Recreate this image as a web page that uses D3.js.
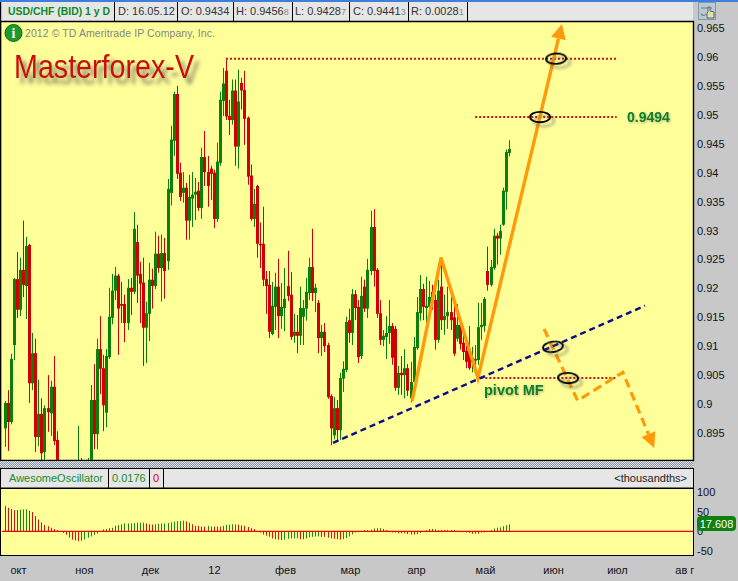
<!DOCTYPE html>
<html><head><meta charset="utf-8">
<script src="https://cdn.jsdelivr.net/npm/d3@7"></script>
<style>
html,body{margin:0;padding:0;background:#c8c8c8;overflow:hidden}
text{font-family:"Liberation Sans",Arial,sans-serif}
</style></head><body>
<svg id="c" width="738" height="581"></svg>
<script>
// daily candles, in price
const opens=[.8958,.9002,.8969,.9102,.9216,.9163,.9232,.9204,.9275,.9036,.9088,.8943,.8983,.8917,.8993,.8984,.9030,.8938,.8886,.8820,.8790,.8840,.8800,.8850,.8810,.8860,.8820,.8850,.8880,.9007,.8948,.9095,.9062,.8985,.9081,.9149,.9196,.9222,.9173,.9173,.9140,.9201,.9194,.9280,.9225,.9210,.9132,.9156,.9215,.9204,.9260,.9235,.9261,.9247,.9365,.9455,.9536,.9400,.9365,.9374,.9317,.9355,.9362,.9369,.9339,.9427,.9401,.9407,.9400,.9320,.9417,.9524,.9576,.9498,.9491,.9542,.9445,.9555,.9543,.9495,.9395,.9320,.9377,.9277,.9277,.9216,.9206,.9121,.9168,.9203,.9152,.9166,.9204,.9189,.9118,.9125,.9118,.9151,.9165,.9192,.9237,.9192,.9175,.9114,.9125,.9102,.9014,.8946,.8993,.8955,.9044,.9059,.9145,.9123,.9190,.9168,.9083,.9203,.9165,.9230,.9306,.9232,.9157,.9111,.9116,.9123,.9135,.9130,.9028,.9054,.9050,.9062,.9010,.9038,.9097,.9157,.9199,.9166,.9168,.9194,.9180,.9111,.9203,.9145,.9152,.9159,.9150,.9113,.9137,.9106,.9092,.9092,.9073,.9075,.9076,.9133,.9135,.9230,.9206,.9235,.9291,.9286,.9310,.9367,.9434];
const highs=[.9005,.9024,.9087,.9218,.9263,.9253,.9317,.9289,.9277,.9123,.9113,.9042,.9010,.8998,.9050,.9040,.9083,.8953,.8895,.8850,.8860,.8880,.8870,.8890,.8962,.8907,.8880,.8907,.9033,.9069,.9113,.9152,.9085,.9095,.9201,.9225,.9237,.9225,.9211,.9189,.9216,.9218,.9332,.9310,.9246,.9253,.9177,.9244,.9234,.9298,.9291,.9293,.9287,.9389,.9481,.9540,.9550,.9417,.9401,.9382,.9396,.9401,.9391,.9384,.9443,.9472,.9429,.9412,.9405,.9452,.9540,.9581,.9595,.9526,.9561,.9561,.9578,.9564,.9576,.9497,.9414,.9372,.9379,.9314,.9341,.9230,.9230,.9211,.9227,.9251,.9209,.9235,.9265,.9228,.9156,.9154,.9203,.9180,.9218,.9253,.9303,.9208,.9180,.9137,.9140,.9106,.9017,.9012,.9007,.9054,.9074,.9151,.9165,.9199,.9197,.9180,.9220,.9215,.9251,.9334,.9337,.9235,.9180,.9128,.9152,.9180,.9140,.9135,.9066,.9083,.9095,.9069,.9073,.9116,.9185,.9223,.9208,.9220,.9213,.9206,.9189,.9215,.9254,.9189,.9203,.9185,.9180,.9173,.9145,.9135,.9111,.9135,.9099,.9102,.9175,.9175,.9185,.9272,.9249,.9303,.9296,.9310,.9374,.9440,.9456];
const lows=[.8926,.8919,.8965,.9076,.9149,.9152,.9185,.9147,.9002,.9024,.8917,.8927,.8903,.8903,.8952,.8945,.8929,.8869,.8800,.8770,.8760,.8780,.8780,.8790,.8800,.8790,.8790,.8800,.8860,.8922,.8922,.9017,.8953,.8960,.9078,.9138,.9180,.9085,.9140,.9107,.9128,.9154,.9190,.9175,.9140,.9066,.9071,.9109,.9165,.9199,.9227,.9177,.9182,.9232,.9343,.9429,.9389,.9351,.9348,.9284,.9284,.9306,.9318,.9334,.9320,.9377,.9341,.9353,.9304,.9315,.9412,.9498,.9491,.9465,.9483,.9412,.9407,.9509,.9448,.9379,.9317,.9306,.9253,.9235,.9204,.9156,.9114,.9119,.9128,.9114,.9130,.9126,.9178,.9111,.9106,.9088,.9102,.9102,.9144,.9180,.9178,.9159,.9088,.9083,.9090,.9009,.8929,.8939,.8938,.8938,.9021,.9055,.9106,.9102,.9145,.9071,.9078,.9159,.9149,.9223,.9203,.9149,.9102,.9100,.9078,.9104,.9068,.9023,.9016,.9016,.9010,.9014,.9003,.9032,.9094,.9144,.9145,.9137,.9145,.9163,.9094,.9106,.9128,.9120,.9130,.9128,.9083,.9108,.9094,.9076,.9062,.9059,.9055,.9059,.9068,.9111,.9125,.9196,.9203,.9232,.9241,.9258,.9308,.9336,.9428];
const closes=[.9002,.8969,.9078,.9216,.9163,.9232,.9206,.9273,.9036,.9088,.8943,.8983,.8915,.8993,.8986,.9030,.8936,.8886,.8820,.8790,.8840,.8800,.8850,.8810,.8860,.8820,.8850,.8880,.9007,.8948,.9095,.9061,.8998,.9083,.9151,.9196,.9222,.9165,.9170,.9140,.9201,.9194,.9303,.9222,.9208,.9132,.9157,.9215,.9204,.9260,.9235,.9261,.9230,.9372,.9457,.9536,.9398,.9358,.9374,.9317,.9358,.9362,.9367,.9339,.9427,.9401,.9377,.9398,.9320,.9419,.9526,.9554,.9497,.9491,.9542,.9445,.9523,.9542,.9493,.9393,.9320,.9346,.9277,.9275,.9215,.9204,.9125,.9170,.9203,.9152,.9168,.9182,.9187,.9116,.9125,.9118,.9166,.9166,.9194,.9237,.9192,.9201,.9114,.9125,.9100,.9012,.8958,.8993,.8955,.9045,.9061,.9142,.9123,.9190,.9166,.9081,.9187,.9165,.9232,.9306,.9230,.9156,.9111,.9118,.9123,.9135,.9080,.9028,.9054,.9050,.9062,.9023,.9038,.9099,.9159,.9199,.9168,.9170,.9185,.9180,.9111,.9196,.9145,.9152,.9159,.9145,.9087,.9137,.9104,.9090,.9073,.9062,.9080,.9078,.9133,.9137,.9182,.9206,.9237,.9291,.9286,.9299,.9369,.9436,.9441];
// Awesome Oscillator, thousandths
const aoValues=[65,60,57,54,54,55,56,56,52,49,39,30,23,16,13,9,6,3,-1,-4,-9,-16,-21,-23,-25,-24,-21,-16,-13,-9,-6,0,5,6,8,9,14,16,18,20,20,20,21,22,22,22,20,18,17,18,19,20,20,21,23,25,26,26,27,25,22,18,14,14,12,12,14,12,12,12,12,14,16,17,18,18,17,15,14,11,8,6,0,-3,-8,-11,-14,-18,-20,-21,-22,-21,-19,-18,-18,-18,-20,-20,-18,-15,-14,-13,-13,-14,-14,-16,-18,-19,-20,-21,-20,-17,-13,-8,-3,-2,-1,3,3,4,7,8,8,6,3,0,-3,-3,-5,-5,-5,-7,-8,-8,-7,-4,0,3,6,6,5,3,3,3,3,3,3,1,-2,-2,-3,-4,-6,-6,-6,-3,-3,-1,3,7,9,10,13,15,17.608];
const priceTicks=[.965,.96,.955,.95,.945,.94,.935,.93,.925,.92,.915,.91,.905,.9,.895];
const aoTicks=[100,50,0,-50];
const monthLabels=["окт","ноя","дек","12","фев","мар","апр","май","июн","июл","ав г"];
const monthIndex=[4.4,25.8,47.3,68.1,91.2,112.3,133.8,156.2,178.3,199.1,221];
// analyst's drawings: [bar index, price]
const resistance=[[72,.9597],[198.8,.9597]];
const target=[[153,.9496],[199,.9496]];
const pivot=[[155,.9045],[199,.9045]];
const trendLine=[[106.8,.8933],[208.2,.9170]];
const bullPath=[[132.5,.9005],[141.9,.9253],[153.9,.9045],[181.2,.9657]];
const bearPath=[[175.4,.9130],[186.3,.9006],[201,.9055],[211.2,.8924]];
const rings=[[179.3,.9597,-3],[174.1,.9496,0],[178.3,.9099,-8],[183.2,.9045,3]];

const svg=d3.select("#c");
const L=2,R=693,T=22,B=460,AT=488,AB=555;
const x=d3.scaleLinear().domain([0,164]).range([4.5,509]);
const y=d3.scaleLinear().domain([.965,.895]).range([28,433]);
const ay=d3.scaleLinear().domain([100,-50]).range([492,551]);
const GREEN="#0a800a",RED="#d00000",PALE="#ffff99",HDR="#e6e6e6";
const defs=svg.append("defs");
const pat=defs.append("pattern").attr("id","chk").attr("width",2).attr("height",2).attr("patternUnits","userSpaceOnUse");
pat.append("rect").attr("width",2).attr("height",2).attr("fill","#8f9aa6");
pat.append("rect").attr("width",1).attr("height",1).attr("fill","#d8dce0");
pat.append("rect").attr("x",1).attr("y",1).attr("width",1).attr("height",1).attr("fill","#d8dce0");
const blur=(id,s,dx,dy,op)=>{const f=defs.append("filter").attr("id",id).attr("x","-30%").attr("y","-60%").attr("width","170%").attr("height","240%");
 f.append("feDropShadow").attr("dx",dx).attr("dy",dy).attr("stdDeviation",s).attr("flood-color","#555").attr("flood-opacity",op);};
blur("sBig",2,5,6,.75);blur("sRing",1.6,4,4,.55);blur("sTxt",.8,1,1,.45);
defs.append("clipPath").attr("id","main").append("rect").attr("x",L).attr("y",T).attr("width",R-L).attr("height",B-T);
defs.append("clipPath").attr("id","ao").append("rect").attr("x",L).attr("y",AT).attr("width",R-L).attr("height",AB-AT);

svg.append("rect").attr("width",738).attr("height",581).attr("fill","#c8c8c8");
svg.append("rect").attr("width",738).attr("height",2).attr("fill","#3f7fd8");
// header bar
svg.append("rect").attr("x",0).attr("y",2).attr("width",693).attr("height",19).attr("fill",HDR);
svg.append("rect").attr("x",L).attr("y",T).attr("width",R-L).attr("height",B-T).attr("fill",PALE);
svg.append("path").attr("d",`M0.5 2V460.5H693.5V21.5H0`).attr("fill","none").attr("stroke","#000").attr("stroke-width",1.4);
[114,177,233,292,349,408,467].forEach(v=>svg.append("line").attr("x1",v+.5).attr("x2",v+.5).attr("y1",2).attr("y2",21).attr("stroke","#000"));
svg.append("text").attr("x",8).attr("y",15).attr("font-size",11).attr("font-weight","bold").attr("textLength",102).attr("lengthAdjust","spacingAndGlyphs").attr("fill","#0b8a2a").text("USD/CHF (BID) 1 y D");
const hdr=[["D: 16.05.12","",118],["O: 0.9434","",181],["H: 0.9456","8",236],["L: 0.9428","7",295],["C: 0.9441","3",353],["R: 0.0028","1",411]];
hdr.forEach(h=>{const t=svg.append("text").attr("x",h[2]).attr("y",15).attr("font-size",11).attr("fill","#333").text(h[0]);
 if(h[1])t.append("tspan").attr("font-size",9).attr("fill","#888").text(h[1]);});

// candles
const g=svg.append("g").attr("clip-path","url(#main)");
const bars=opens.map((o,i)=>({i,o,h:highs[i],l:lows[i],c:closes[i]}));
const col=d=>d.c>=d.o?GREEN:RED;
g.selectAll("line.w").data(bars).join("line").attr("class","w")
 .attr("x1",d=>Math.round(x(d.i))+.5).attr("x2",d=>Math.round(x(d.i))+.5)
 .attr("y1",d=>y(d.h)).attr("y2",d=>y(d.l)).attr("stroke",col).attr("stroke-width",1);
g.selectAll("rect.b").data(bars).join("rect").attr("class","b")
 .attr("x",d=>Math.round(x(d.i))-1).attr("width",3)
 .attr("y",d=>Math.min(y(d.o),y(d.c))).attr("height",d=>Math.max(1.5,Math.abs(y(d.o)-y(d.c)))).attr("fill",col);

// drawings
const ln=d3.line().x(d=>x(d[0])).y(d=>y(d[1]));
const dotted=s=>g.append("path").attr("d",ln(s)).attr("fill","none").attr("stroke","#cc1020").attr("stroke-width",2).attr("stroke-dasharray","2 2");
[resistance,target,pivot].forEach(dotted);
const arrowHead=(pts,len,hw)=>{const a=pts[pts.length-2],b=pts[pts.length-1];
 const ax=x(a[0]),ay_=y(a[1]),bx=x(b[0]),by=y(b[1]);const d=Math.hypot(bx-ax,by-ay_),ux=(bx-ax)/d,uy=(by-ay_)/d;
 const cx=bx-ux*len,cy=by-uy*len;
 return {tip:[bx,by],base:[cx,cy],poly:[[bx,by],[cx-uy*hw,cy+ux*hw],[cx+uy*hw,cy-ux*hw]].join(" ")};};
const ORANGE="#ff9a0a";
const upH=arrowHead(bullPath,15,7.5);
const lnPx=d3.line();
g.append("path").attr("d",lnPx([...bullPath.slice(0,-1).map(p=>[x(p[0]),y(p[1])]),upH.base])).attr("fill","none").attr("stroke",ORANGE).attr("stroke-width",3.4).attr("stroke-linejoin","miter");
g.append("polygon").attr("points",upH.poly).attr("fill",ORANGE);
const dnH=arrowHead(bearPath,15,7.5);
g.append("path").attr("d",lnPx([...bearPath.slice(0,-1).map(p=>[x(p[0]),y(p[1])]),dnH.base])).attr("fill","none").attr("stroke",ORANGE).attr("stroke-width",3.2).attr("stroke-dasharray","9 5");
g.append("polygon").attr("points",dnH.poly).attr("fill",ORANGE);
g.append("path").attr("d",ln(trendLine)).attr("fill","none").attr("stroke","#0a0a8c").attr("stroke-width",2.4).attr("stroke-dasharray","6 4");
g.selectAll("ellipse").data(rings).join("ellipse").attr("cx",d=>x(d[0])).attr("cy",d=>y(d[1])).attr("rx",10).attr("ry",5.2)
 .attr("transform",d=>`rotate(${d[2]} ${x(d[0])} ${y(d[1])})`).attr("fill","none").attr("stroke","#000").attr("stroke-width",1.9).attr("filter","url(#sRing)");

// labels in plot
svg.append("circle").attr("cx",13.5).attr("cy",33).attr("r",8.5).attr("fill","#1e9a2a").attr("stroke","#0c6a18");
svg.append("text").attr("x",13.5).attr("y",38).attr("text-anchor","middle").attr("font-size",14).attr("font-weight","bold").attr("fill","#fff").style("font-family","'Liberation Serif',serif").text("i");
svg.append("text").attr("x",25).attr("y",37).attr("font-size",10.5).attr("textLength",190).attr("lengthAdjust","spacing").attr("fill","#858585").text("2012 © TD Ameritrade IP Company, Inc.");
svg.append("text").attr("x",14).attr("y",78).attr("font-size",33).attr("textLength",180).attr("lengthAdjust","spacingAndGlyphs").attr("fill","#cc0a0a").attr("filter","url(#sBig)").text("Masterforex-V");
svg.append("text").attr("x",627).attr("y",122).attr("font-size",14).attr("font-weight","bold").attr("fill","#0b7f2a").attr("filter","url(#sTxt)").text("0.9494");
svg.append("text").attr("x",484).attr("y",395).attr("font-size",14.5).attr("font-weight","bold").attr("fill","#0b7f2a").attr("filter","url(#sTxt)").text("pivot MF");

// price axis
const axisTxt=sel=>{sel.select(".domain").remove();sel.selectAll(".tick line").remove();sel.selectAll("text").attr("font-size",11).attr("fill","#111").attr("x",3).style("font-family","'Liberation Sans',Arial,sans-serif");};
svg.append("g").attr("transform",`translate(${R+1},0)`).call(d3.axisRight(y).tickValues(priceTicks).tickFormat(d=>String(d))).call(axisTxt);
// corner icon
const ic=svg.append("g");
ic.append("rect").attr("x",698.5).attr("y",2.5).attr("width",17).attr("height",17).attr("fill","#bcc8d2").attr("stroke","#7d97b5");
ic.append("path").attr("d","M701 8h11M701 14q3 3 5 0").attr("fill","none").attr("stroke","#5f7f9f").attr("stroke-width",1.2);
ic.append("path").attr("d","M707 18v-5l1-1v-5h2v4l4 1v6z").attr("fill","#d9e6a8").attr("stroke","#445").attr("stroke-width",.8);

// splitter
svg.append("rect").attr("x",0).attr("y",461).attr("width",693).attr("height",7).attr("fill","url(#chk)");
// AO header
svg.append("rect").attr("x",0.5).attr("y",468.5).attr("width",693).attr("height",19.5).attr("fill",HDR).attr("stroke","#000");
[108,149,163].forEach(v=>svg.append("line").attr("x1",v+.5).attr("x2",v+.5).attr("y1",468).attr("y2",488).attr("stroke","#000"));
svg.append("text").attr("x",9).attr("y",482).attr("font-size",11).attr("fill","#1a8a2a").text("AwesomeOscillator");
svg.append("text").attr("x",112).attr("y",482).attr("font-size",11).attr("fill","#1a8a2a").text("0.0176");
svg.append("text").attr("x",153).attr("y",482).attr("font-size",11).attr("fill","#e00000").text("0");
svg.append("text").attr("x",687).attr("y",482).attr("text-anchor","end").attr("font-size",11).attr("fill","#222").text("<thousandths>");
// AO panel
svg.append("rect").attr("x",0.5).attr("y",488.5).attr("width",693).attr("height",67).attr("fill",PALE).attr("stroke","#000");
const ag=svg.append("g").attr("clip-path","url(#ao)");
let last=RED;
const aoBars=aoValues.map((v,i)=>{const p=i?aoValues[i-1]:v+1;if(v>p)last=GREEN;else if(v<p)last=RED;return {i,v,c:last};});
ag.selectAll("line.a").data(aoBars).join("line").attr("class","a")
 .attr("x1",d=>Math.round(x(d.i))+.5).attr("x2",d=>Math.round(x(d.i))+.5)
 .attr("y1",ay(0)).attr("y2",d=>ay(d.v)).attr("stroke",d=>d.c==GREEN?"#1a8a1a":"#d81010").attr("stroke-width",1);
ag.append("line").attr("x1",L).attr("x2",R).attr("y1",ay(0)).attr("y2",ay(0)).attr("stroke","#f00000").attr("stroke-width",1.4);
svg.append("g").attr("transform",`translate(${R+1},0)`).call(d3.axisRight(ay).tickValues(aoTicks).tickFormat(d=>String(d))).call(axisTxt);
// value badge
svg.append("rect").attr("x",697).attr("y",516).attr("width",39).attr("height",15).attr("rx",4).attr("fill","#0f7f0f");
svg.append("text").attr("x",716.5).attr("y",527.5).attr("text-anchor","middle").attr("font-size",11).attr("fill","#fff").text(d3.format(".3f")(aoValues[aoValues.length-1]));
// month axis
svg.append("g").attr("transform",`translate(0,${AB})`).call(d3.axisBottom(x).tickValues(monthIndex).tickFormat((d,i)=>monthLabels[i]))
 .call(s=>{s.select(".domain").remove();s.selectAll(".tick line").remove();s.selectAll("text").attr("font-size",11).attr("fill","#111").attr("y",11).attr("dy",".71em").style("font-family","'Liberation Sans',Arial,sans-serif");});
</script>
</body></html>
